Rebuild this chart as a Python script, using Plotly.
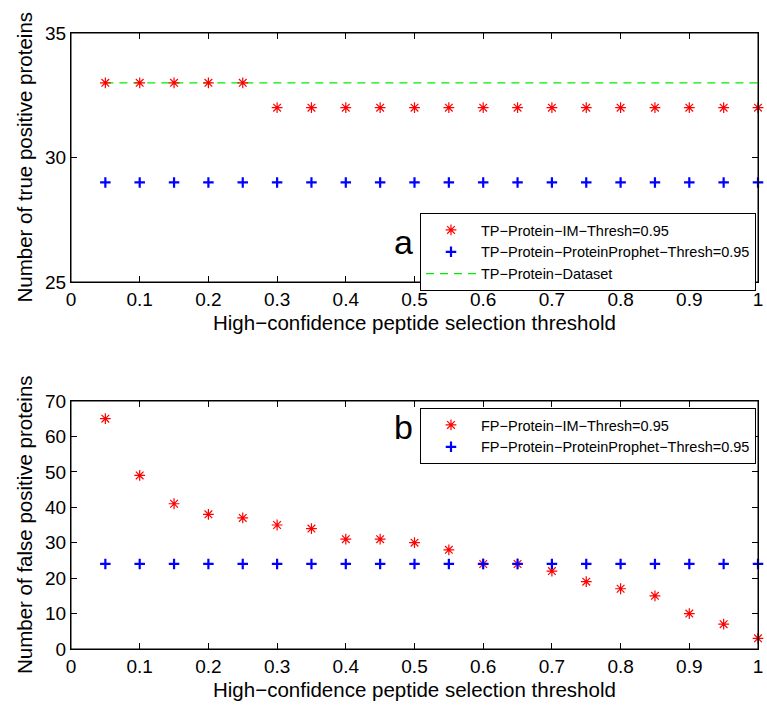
import plotly.graph_objects as go

# ---- data ----
thresholds = [0.05, 0.1, 0.15, 0.2, 0.25, 0.3, 0.35, 0.4, 0.45, 0.5,
              0.55, 0.6, 0.65, 0.7, 0.75, 0.8, 0.85, 0.9, 0.95, 1.0]
tp_im = [33, 33, 33, 33, 33, 32, 32, 32, 32, 32,
         32, 32, 32, 32, 32, 32, 32, 32, 32, 32]
tp_pp = [29] * 20
tp_dataset = [33] * 20
fp_im = [65, 49, 41, 38, 37, 35, 34, 31, 31, 30,
         28, 24, 24, 22, 19, 17, 15, 10, 7, 3]
fp_pp = [24] * 20

x_ticks = [0, 0.1, 0.2, 0.3, 0.4, 0.5, 0.6, 0.7, 0.8, 0.9, 1]
x_ticklabels = ["0", "0.1", "0.2", "0.3", "0.4", "0.5", "0.6", "0.7", "0.8", "0.9", "1"]
top_yticks = [25, 30, 35]
bot_yticks = [0, 10, 20, 30, 40, 50, 60, 70]

xtitle = "High\u2212confidence peptide selection threshold"
FONT = "Liberation Sans, Arial, Helvetica, sans-serif"

fig = go.Figure()

star = dict(symbol="asterisk-open", size=9, color="red", line=dict(color="red", width=1.2))
plus = dict(symbol="cross-thin-open", size=7.5, color="blue", line=dict(color="blue", width=2.2))

fig.add_trace(go.Scatter(x=thresholds, y=tp_dataset, mode="lines",
                         line=dict(color="#00ee00", width=1.2, dash="8px,6px"),
                         name="TP\u2212Protein\u2212Dataset", legend="legend", legendrank=3,
                         xaxis="x", yaxis="y", cliponaxis=False))
fig.add_trace(go.Scatter(x=thresholds, y=tp_im, mode="markers", marker=star,
                         name="TP\u2212Protein\u2212IM\u2212Thresh=0.95", legend="legend", legendrank=1,
                         xaxis="x", yaxis="y", cliponaxis=False))
fig.add_trace(go.Scatter(x=thresholds, y=tp_pp, mode="markers", marker=plus,
                         name="TP\u2212Protein\u2212ProteinProphet\u2212Thresh=0.95", legend="legend",
                         legendrank=2, xaxis="x", yaxis="y", cliponaxis=False))

fig.add_trace(go.Scatter(x=thresholds, y=fp_im, mode="markers", marker=star,
                         name="FP\u2212Protein\u2212IM\u2212Thresh=0.95", legend="legend2",
                         xaxis="x2", yaxis="y2", cliponaxis=False))
fig.add_trace(go.Scatter(x=thresholds, y=fp_pp, mode="markers", marker=plus,
                         name="FP\u2212Protein\u2212ProteinProphet\u2212Thresh=0.95", legend="legend2",
                         xaxis="x2", yaxis="y2", cliponaxis=False))

axis_common = dict(showline=True, linecolor="black", linewidth=1, mirror="allticks",
                   ticks="inside", ticklen=6, tickcolor="black", tickwidth=1,
                   showgrid=False, zeroline=False, ticklabeloverflow="allow", automargin=False,
                   tickfont=dict(family=FONT, size=19, color="black"))

W, H = 767, 705
L, R, T, B = 71, 9, 33, 56
ph = H - T - B
top_dom = [(649 - 282) / ph, 1.0]
bot_dom = [0.0, (649 - 401) / ph]

fig.update_layout(
    width=W, height=H,
    margin=dict(l=L, r=R, t=T, b=B, autoexpand=False),
    paper_bgcolor="white", plot_bgcolor="white",
    font=dict(family=FONT, color="black"),
    xaxis=dict(range=[0, 1], tickvals=x_ticks, ticktext=x_ticklabels, anchor="y",
               domain=[0, 1], **axis_common),
    yaxis=dict(range=[25, 35], tickvals=top_yticks, anchor="x", domain=top_dom, **axis_common),
    xaxis2=dict(range=[0, 1], tickvals=x_ticks, ticktext=x_ticklabels, anchor="y2",
                domain=[0, 1], **axis_common),
    yaxis2=dict(range=[0, 70], tickvals=bot_yticks, anchor="x2", domain=bot_dom, **axis_common),
    legend=dict(x=(420 - L) / (W - L - R), y=(649 - 213) / ph, xanchor="left", yanchor="top",
                bgcolor="white", bordercolor="black", borderwidth=1,
                font=dict(family=FONT, size=14.5, color="black"),
                itemwidth=50, traceorder="normal", tracegroupgap=0),
    legend2=dict(x=(420 - L) / (W - L - R), y=(649 - 408) / ph, xanchor="left", yanchor="top",
                 bgcolor="white", bordercolor="black", borderwidth=1,
                 font=dict(family=FONT, size=14.5, color="black"),
                 itemwidth=50, traceorder="normal", tracegroupgap=0),
    showlegend=True,
)

# axes frames (box around each subplot)
for xr, yr in (("x domain", "y domain"), ("x2 domain", "y2 domain")):
    fig.add_shape(type="rect", xref=xr, yref=yr, x0=0, x1=1, y0=0, y1=1,
                  line=dict(color="black", width=1), fillcolor="rgba(0,0,0,0)", layer="above")

ann_font = dict(family=FONT, size=20.5, color="black")
annotations = [
    dict(text=xtitle, xref="x domain", yref="y domain", x=0.5, y=0, yshift=-40,
         xanchor="center", yanchor="middle", showarrow=False, font=ann_font),
    dict(text=xtitle, xref="x2 domain", yref="y2 domain", x=0.5, y=0, yshift=-40,
         xanchor="center", yanchor="middle", showarrow=False, font=ann_font),
    dict(text="Number of true positive proteins", xref="x domain", yref="y domain",
         x=0, y=0.5, xshift=-47, textangle=-90, xanchor="center", yanchor="middle",
         showarrow=False, font=ann_font),
    dict(text="Number of false positive proteins", xref="x2 domain", yref="y2 domain",
         x=0, y=0.5, xshift=-47, textangle=-90, xanchor="center", yanchor="middle",
         showarrow=False, font=ann_font),
    dict(text="a", xref="x domain", yref="y domain", x=(403 - L) / (W - L - R),
         y=(282 - 242) / 249, xanchor="center", yanchor="middle", showarrow=False,
         font=dict(family=FONT, size=34, color="black")),
    dict(text="b", xref="x2 domain", yref="y2 domain", x=(403 - L) / (W - L - R),
         y=(649 - 427) / 248, xanchor="center", yanchor="middle", showarrow=False,
         font=dict(family=FONT, size=34, color="black")),
]
fig.update_layout(annotations=annotations)

fig.write_html(
    "out.html", config={"displayModeBar": False},
    post_script=("document.documentElement.style.margin='0';"
                 "document.documentElement.style.overflow='hidden';"
                 "document.body.style.margin='0';document.body.style.overflow='hidden';"),
)
